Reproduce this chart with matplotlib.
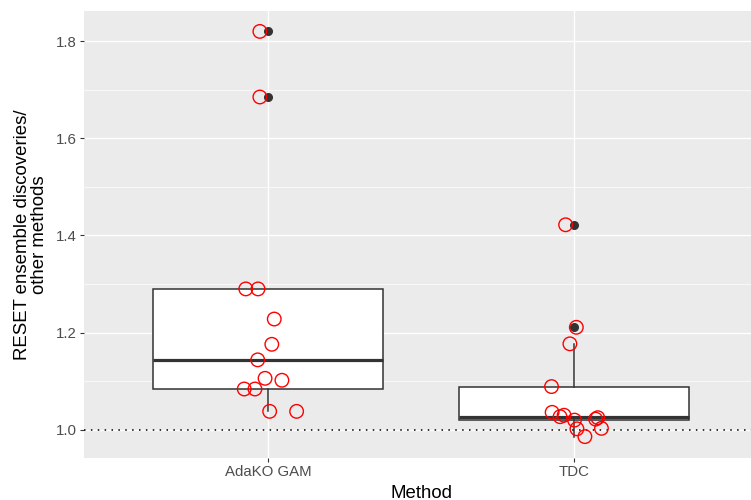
import matplotlib
matplotlib.use("Agg")
import matplotlib.pyplot as plt
from matplotlib.ticker import MultipleLocator

plt.rcParams['font.family'] = ['Liberation Sans', 'DejaVu Sans']

# data
methods = ["AdaKO GAM", "TDC"]
adako_vals = [1.820, 1.685, 1.290, 1.290, 1.228, 1.176, 1.144, 1.106, 1.102,
              1.084, 1.084, 1.038, 1.038]
adako_jitter = [-0.026, -0.026, -0.072, -0.032, 0.021, 0.013, -0.033, -0.009,
                0.046, -0.077, -0.042, 0.006, 0.094]
tdc_vals = [1.422, 1.211, 1.177, 1.089, 1.036, 1.027, 1.030, 1.020, 1.022,
            1.025, 1.002, 1.003, 0.986]
tdc_jitter = [-0.028, 0.007, -0.014, -0.074, -0.072, -0.046, -0.033, 0.001,
              0.070, 0.077, 0.009, 0.089, 0.035]

W, H = 751, 500
fig = plt.figure(figsize=(W / 100, H / 100), dpi=100)
left, right, top, bottom = 84, 758, 11, 458
ax = fig.add_axes([left / W, 1 - bottom / H, (right - left) / W, (bottom - top) / H])
ax.set_facecolor('#EBEBEB')
for s in ax.spines.values():
    s.set_visible(False)

ax.boxplot([adako_vals, tdc_vals], positions=[1, 2], widths=0.75, whis=1.5,
           patch_artist=True, showcaps=False,
           boxprops=dict(facecolor='white', edgecolor='#333333', linewidth=1.1),
           medianprops=dict(color='#333333', linewidth=2.3),
           whiskerprops=dict(color='#333333', linewidth=1.1),
           flierprops=dict(marker='o', markerfacecolor='#333333',
                           markeredgecolor='#333333', markersize=5.5),
           zorder=2)

ax.axhline(1.0, color='black', linestyle=(0, (1, 3.5)), linewidth=1.1, zorder=2.5)

for i, (vals, jit) in enumerate([(adako_vals, adako_jitter), (tdc_vals, tdc_jitter)]):
    xs = [i + 1 + j for j in jit]
    ax.scatter(xs, vals, s=95, facecolors='none', edgecolors='red',
               linewidths=1.0, zorder=3)

ax.set_xlim(0.4, 2.6)
ax.set_ylim(0.942, 1.862)
ax.set_xticks([1, 2])
ax.set_xticklabels(methods)
ax.yaxis.set_major_locator(MultipleLocator(0.2))
ax.yaxis.set_minor_locator(MultipleLocator(0.1))
ax.set_yticks([1.0, 1.2, 1.4, 1.6, 1.8])
ax.set_yticklabels(['1.0', '1.2', '1.4', '1.6', '1.8'])

ax.grid(which='major', color='white', linewidth=1.0, zorder=0)
ax.grid(which='minor', axis='y', color='white', linewidth=0.5, zorder=0)
ax.set_axisbelow(True)
ax.tick_params(which='major', length=3, width=0.8, color='#333333',
               labelsize=10.8, labelcolor='#4D4D4D', pad=2)
ax.tick_params(which='minor', length=0)

ax.set_xlabel('Method', fontsize=13.4, labelpad=4)
ax.set_ylabel('RESET ensemble discoveries/\nother methods', fontsize=13.4,
              labelpad=6, linespacing=1.0)

fig.savefig('out.png', dpi=100)
